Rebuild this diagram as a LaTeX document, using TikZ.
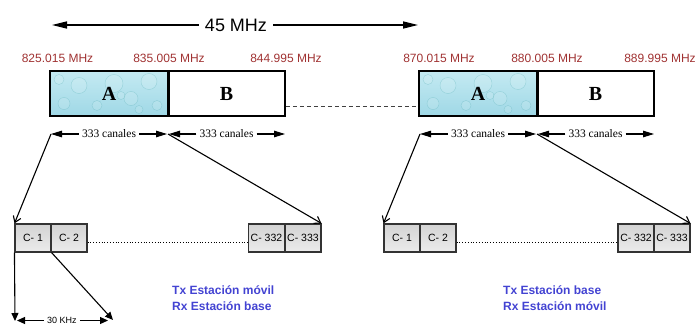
\documentclass[tikz,border=0pt]{standalone}
\usepackage{fontspec}
\setmainfont{Liberation Serif}
\setsansfont{Liberation Sans}
\usetikzlibrary{arrows.meta}
\definecolor{freqred}{HTML}{A03232}
\definecolor{labblue}{HTML}{4343D2}
\definecolor{aqua}{HTML}{9FD8E6}
\definecolor{aqualt}{HTML}{C4EAF2}
\begin{document}
\begin{tikzpicture}[x=1pt,y=-1pt,
  bandA/.style={draw, line width=1.8pt, minimum width=118pt, minimum height=45pt, inner sep=0pt,
     top color=aqualt, bottom color=aqua, font=\fontsize{20}{20}\selectfont\bfseries,
     path picture={
       \foreach \dx/\dy/\r in {-45/-10/6,-30/8/8,-12/-12/5,5/10/9,22/-5/7,40/12/8,48/-12/5,-50/14/5,12/-2/4,30/-16/4}
         \draw[teal!60!aqua, line width=0.4pt, fill=white, fill opacity=0.12, draw opacity=0.3]
           ([xshift=\dx pt,yshift=\dy pt]path picture bounding box.center) circle (\r pt);
     }},
  bandB/.style={draw, line width=1.8pt, minimum width=117pt, minimum height=45pt, inner sep=0pt,
     fill=white, font=\fontsize{20}{20}\selectfont\bfseries},
  freq/.style={text=freqred, font=\sffamily\fontsize{12}{14}\selectfont, inner sep=0pt},
  cell/.style={draw=black!80, line width=1.1pt, minimum width=36pt, minimum height=28pt, inner sep=0pt,
     top color=gray!35, bottom color=gray!15, font=\sffamily\fontsize{10.5}{12}\selectfont},
  canal/.style={font=\fontsize{11.5}{13}\selectfont, inner sep=3pt},
  dimtip/.style={line width=1.1pt, -{Triangle[length=11pt,width=6.5pt]}},
  bigtip/.style={line width=1.3pt, -{Triangle[length=15pt,width=7pt]}},
  zoomarrow/.style={line width=1.1pt, -{Straight Barb[length=6pt,width=8pt]}},
  downarrow/.style={line width=1.1pt, -{Triangle[length=8pt,width=7pt]}},
  info/.style={text=labblue, font=\sffamily\bfseries\fontsize{12}{16}\selectfont, align=left, anchor=west, inner sep=0pt}
]
\useasboundingbox (0,0) rectangle (695,326);
\clip (0,0) rectangle (695,326);

% 45 MHz
\node[font=\sffamily\fontsize{18}{20}\selectfont, inner sep=6pt] (span) at (236,25) {45 MHz};
\coordinate (spanL) at (52,25);
\coordinate (spanR) at (418,25);
\draw[bigtip] (span.west) -- (spanL);
\draw[bigtip] (span.east) -- (spanR);

% bands
\node[bandA] (LA) at (109,93.5) {A};
\node[bandB] (LB) at (226.5,93.5) {B};
\node[bandA] (RA) at (478,93.5) {A};
\node[bandB] (RB) at (595.5,93.5) {B};
\draw[line width=1.2pt] (LA.north east) -- (LA.south east);
\draw[line width=1.2pt] (RA.north east) -- (RA.south east);
\draw[dashed, black!75, line width=1pt, dash pattern=on 4pt off 3pt]
  ([yshift=-13.5pt]LB.east) -- ([yshift=-13.5pt]RA.west);

% frequency labels
\node[freq] (f1) at (57.5,58) {825.015 MHz};
\node[freq] (f2) at (169,58) {835.005 MHz};
\node[freq] (f3) at (286,58) {844.995 MHz};
\node[freq] (f4) at (439,58) {870.015 MHz};
\node[freq] (f5) at (547,58) {880.005 MHz};
\node[freq] (f6) at (660,58) {889.995 MHz};

% 333 canales
\coordinate (k0) at (51,134);
\coordinate (k1) at (168,134);
\coordinate (k2) at (285,134);
\coordinate (k3) at (420,134);
\coordinate (k4) at (537,134);
\coordinate (k5) at (654,134);
\node[canal] (c1) at (109,134) {333 canales};
\node[canal] (c2) at (226.5,134) {333 canales};
\node[canal] (c3) at (478,134) {333 canales};
\node[canal] (c4) at (595.5,134) {333 canales};
\draw[dimtip] (c1.west) -- (k0);
\draw[dimtip] (c1.east) -- ([xshift=-1pt]k1);
\draw[dimtip] (c2.west) -- ([xshift=1pt]k1);
\draw[dimtip] (c2.east) -- (k2);
\draw[dimtip] (c3.west) -- (k3);
\draw[dimtip] (c3.east) -- ([xshift=-1pt]k4);
\draw[dimtip] (c4.west) -- ([xshift=1pt]k4);
\draw[dimtip] (c4.east) -- (k5);

% channel cells left
\node[cell] (L1) at (33,238) {C- 1};
\node[cell] (L2) at (69,238) {C- 2};
\node[cell] (L332) at (266.5,238) {C- 332};
\node[cell] (L333) at (303,238) {C- 333};
\draw[dotted, line width=0.8pt] ([yshift=-4pt]L2.east) -- ([yshift=-4pt]L332.west);

% channel cells right
\node[cell] (R1) at (402,238) {C- 1};
\node[cell] (R2) at (438,238) {C- 2};
\node[cell] (R332) at (636,238) {C- 332};
\node[cell] (R333) at (672,238) {C- 333};
\draw[dotted, line width=0.8pt] ([yshift=-4pt]R2.east) -- ([yshift=-4pt]R332.west);

% zoom arrows
\draw[zoomarrow] (k0) -- (L1.north west);
\draw[zoomarrow] (k1) -- (L333.north east);
\draw[zoomarrow] (k3) -- (R1.north west);
\draw[zoomarrow] (k4) -- (R333.north east);

% 30 KHz detail
\coordinate (d0) at (15,321);
\coordinate (d1) at (113,320);
\draw[downarrow] (L1.south west) -- (d0);
\draw[downarrow] (L1.south east) -- (d1);
\node[font=\sffamily\fontsize{9}{10}\selectfont, inner sep=3pt] (khz) at (62,320.5) {30 KHz};
\coordinate (e0) at (17,320.5);
\coordinate (e1) at (108,320.5);
\draw[downarrow] (khz.west) -- (e0);
\draw[downarrow] (khz.east) -- (e1);

% info text
\node[info] (iL) at (172,298) {Tx Estación móvil\\Rx Estación base};
\node[info] (iR) at (503,298) {Tx Estación base\\Rx Estación móvil};
\end{tikzpicture}
\end{document}
